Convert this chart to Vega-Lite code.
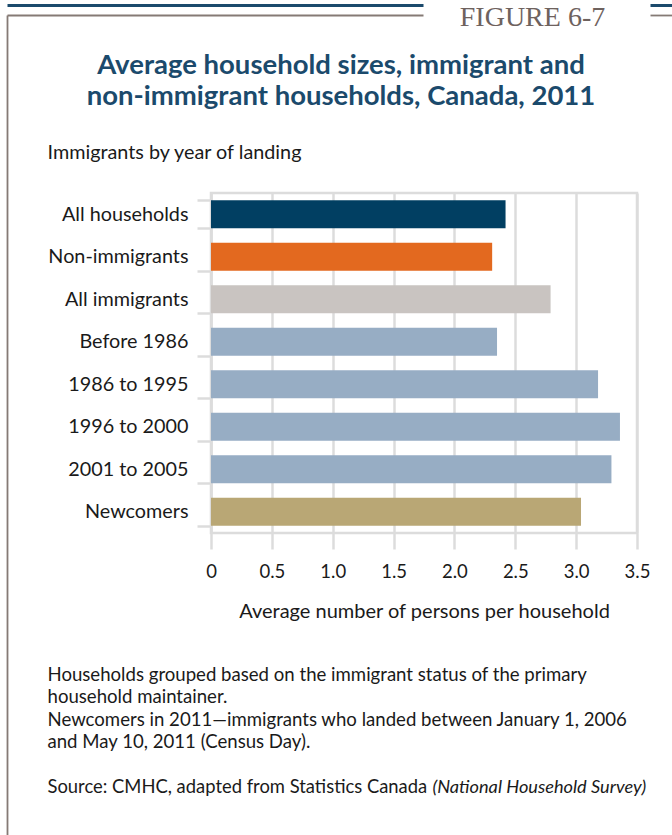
{
  "$schema": "https://vega.github.io/schema/vega-lite/v6.json",
  "autosize": {"type": "none"},
  "width": 426,
  "height": 340,
  "padding": {"left": 211, "top": 193, "right": 35, "bottom": 302},
  "background": "#ffffff",
  "config": {
    "font": "Lato",
    "view": {"stroke": "#dcdcdc", "strokeWidth": 2.5},
    "axis": {"titleLimit": 1000, "labelLimit": 300}
  },
  "title": {
    "text": ["Average household sizes, immigrant and", "non-immigrant households, Canada, 2011"],
    "anchor": "middle",
    "frame": "group",
    "dx": -83,
    "dy": 107,
    "offset": 0,
    "font": "Lato",
    "fontSize": 27.5,
    "fontWeight": "bold",
    "color": "#1b4a6c",
    "lineHeight": 31,
    "limit": 1000
  },
  "data": {
    "values": [
      {"category": "All households", "size": 2.42},
      {"category": "Non-immigrants", "size": 2.31},
      {"category": "All immigrants", "size": 2.79},
      {"category": "Before 1986", "size": 2.35},
      {"category": "1986 to 1995", "size": 3.18},
      {"category": "1996 to 2000", "size": 3.36},
      {"category": "2001 to 2005", "size": 3.29},
      {"category": "Newcomers", "size": 3.04}
    ]
  },
  "resolve": {
    "scale": {"x": "independent", "y": "independent"},
    "axis": {"x": "independent", "y": "independent"}
  },
  "layer": [
    {
      "mark": {"type": "bar"},
      "encoding": {
        "y": {
          "field": "category",
          "type": "nominal",
          "sort": ["All households", "Non-immigrants", "All immigrants", "Before 1986", "1986 to 1995", "1996 to 2000", "2001 to 2005", "Newcomers"],
          "scale": {"paddingInner": 0.34, "paddingOuter": 0.17},
          "axis": {
            "orient": "left",
            "title": "Immigrants by year of landing",
            "titleAngle": 0,
            "titleAlign": "left",
            "titleBaseline": "alphabetic",
            "titleX": -164,
            "titleY": -35,
            "titleFont": "Lato",
            "titleFontSize": 19.8,
            "titleFontWeight": "normal",
            "titleColor": "#1a1a1a",
            "domain": true,
            "domainColor": "#dcdcdc",
            "domainWidth": 2.5,
            "ticks": true,
            "tickBand": "extent",
            "tickSize": 14,
            "tickColor": "#dcdcdc",
            "tickWidth": 2.5,
            "labelFont": "Lato",
            "labelFontSize": 19.8,
            "labelColor": "#1a1a1a",
            "labelPadding": 9,
            "grid": false
          }
        },
        "x": {
          "field": "size",
          "type": "quantitative",
          "scale": {"domain": [0, 3.5], "nice": false, "zero": true},
          "axis": {
            "orient": "bottom",
            "values": [0, 0.5, 1, 1.5, 2, 2.5, 3, 3.5],
            "labelExpr": "datum.value == 0 ? '0' : format(datum.value, '.1f')",
            "title": "Average number of persons per household",
            "titleBaseline": "alphabetic",
            "titleY": 84,
            "titleFont": "Lato",
            "titleFontSize": 20,
            "titleFontWeight": "normal",
            "titleColor": "#1a1a1a",
            "domain": false,
            "grid": true,
            "gridColor": "#dcdcdc",
            "gridWidth": 2.5,
            "ticks": true,
            "tickSize": 16,
            "tickColor": "#dcdcdc",
            "tickWidth": 2.5,
            "labelFont": "Lato",
            "labelFontSize": 18.5,
            "labelColor": "#1a1a1a",
            "labelPadding": 13,
            "labelFlush": false
          }
        },
        "color": {
          "field": "category",
          "type": "nominal",
          "scale": {
            "domain": ["All households", "Non-immigrants", "All immigrants", "Before 1986", "1986 to 1995", "1996 to 2000", "2001 to 2005", "Newcomers"],
            "range": ["#013f62", "#e3691f", "#c9c4c1", "#97adc4", "#97adc4", "#97adc4", "#97adc4", "#b9a775"]
          },
          "legend": null
        }
      }
    },
    {
      "mark": {"type": "point", "opacity": 0, "size": 1},
      "encoding": {
        "x": {
          "field": "size",
          "type": "quantitative",
          "scale": {"domain": [0, 3.5], "nice": false, "range": [-204, 212]},
          "axis": {
            "orient": "top",
            "offset": 188,
            "domain": true,
            "domainColor": "#1b4a6c",
            "domainWidth": 3,
            "ticks": false,
            "labels": false,
            "grid": false,
            "title": "FIGURE 6-7",
            "titleFont": "Liberation Serif",
            "titleFontSize": 28,
            "titleFontWeight": "normal",
            "titleColor": "#6e625e",
            "titleAlign": "center",
            "titleBaseline": "alphabetic",
            "titleX": 321,
            "titleY": 20.5
          }
        },
        "y": {
          "field": "category",
          "type": "nominal",
          "scale": {"range": [-178, 642]},
          "axis": {
            "orient": "left",
            "offset": 204,
            "domain": true,
            "domainColor": "#857a75",
            "domainWidth": 1.8,
            "ticks": false,
            "labels": false,
            "grid": false,
            "title": [
              "Households grouped based on the immigrant status of the primary",
              "household maintainer.",
              "Newcomers in 2011\u2014immigrants who landed between January 1, 2006",
              "and May 10, 2011 (Census Day)."
            ],
            "titleAngle": 0,
            "titleAlign": "left",
            "titleBaseline": "alphabetic",
            "titleX": 40,
            "titleY": 487,
            "titleLineHeight": 22.5,
            "titleFont": "Lato",
            "titleFontSize": 18.6,
            "titleFontWeight": "normal",
            "titleColor": "#1a1a1a"
          }
        }
      }
    },
    {
      "mark": {"type": "point", "opacity": 0, "size": 1},
      "encoding": {
        "x": {
          "field": "size",
          "type": "quantitative",
          "scale": {"domain": [0, 3.5], "nice": false, "range": [-204, 212]},
          "axis": {
            "orient": "top",
            "offset": 178,
            "domain": true,
            "domainColor": "#857a75",
            "domainWidth": 1.8,
            "ticks": false,
            "labels": false,
            "grid": false,
            "title": "(National Household Survey)",
            "titleFont": "Lato",
            "titleFontSize": 18.2,
            "titleFontWeight": "normal",
            "titleFontStyle": "italic",
            "titleColor": "#1a1a1a",
            "titleAlign": "left",
            "titleBaseline": "alphabetic",
            "titleX": 221,
            "titleY": 777.5
          }
        },
        "y": {
          "field": "size",
          "type": "quantitative",
          "scale": {"domain": [0, 4], "nice": false, "zero": false, "range": [-188, -178]},
          "axis": {
            "orient": "right",
            "offset": 13,
            "domain": false,
            "labels": false,
            "grid": false,
            "title": "Source: CMHC, adapted from Statistics Canada",
            "titleAngle": 0,
            "titleAlign": "left",
            "titleBaseline": "alphabetic",
            "titleX": -603,
            "titleY": 599.5,
            "titleFont": "Lato",
            "titleFontSize": 18.4,
            "titleFontWeight": "normal",
            "titleColor": "#1a1a1a",
            "ticks": true,
            "values": [0, 4],
            "tickSize": 22,
            "tickColor": {"condition": {"test": "datum.value == 0", "value": "#1b4a6c"}, "value": "#857a75"},
            "tickWidth": {"condition": {"test": "datum.value == 0", "value": 3}, "value": 1.8}
          }
        }
      }
    }
  ]
}
